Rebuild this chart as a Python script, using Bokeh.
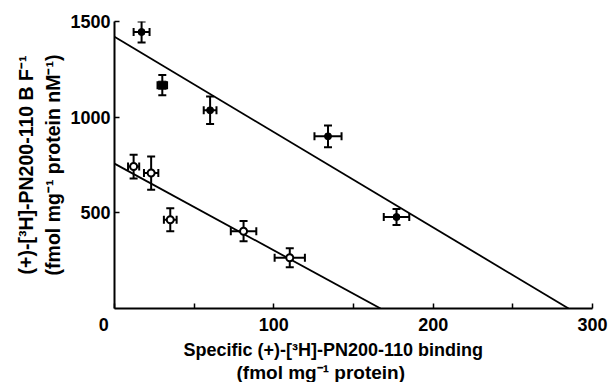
import math
from bokeh.plotting import figure
from bokeh.models import (ColumnDataSource, Range1d, FixedTicker, Whisker, TeeHead, Title)
from bokeh.embed import file_html
from bokeh.resources import INLINE

# ---- data ----
filled_x = [17, 30, 60, 134, 177]
filled_y = [1445, 1167, 1036, 900, 478]
filled_xerr = [5, 3, 4, 8.5, 8]
filled_yerr = [55, 53, 72, 57, 42]

open_x = [12, 23, 35, 81, 110]
open_y = [742, 708, 464, 404, 265]
open_xerr = [3.5, 4.5, 4, 8, 9.5]
open_yerr = [62, 87, 60, 53, 50]

fit_y_intercepts = [1420, 757]   # upper (filled), lower (open)
fit_x_intercepts = [285, 167]

x_ticks = [0, 50, 100, 150, 200, 250, 300]
x_tick_labels = {0: "0\u2003\u2009", 50: "", 100: "100", 150: "", 200: "200", 250: "", 300: "300"}
y_ticks = [500, 1000, 1500]

xl1 = "Specific (+)-[\u00b3H]-PN200-110 binding"
xl2 = "(fmol mg\u207b\u00b9 protein)"
yl1 = "(+)-[\u00b3H]-PN200-110 B F\u207b\u00b9"
yl2 = "(fmol mg\u207b\u00b9 protein nM\u207b\u00b9)"

FONT = "Liberation Sans"

p = figure(width=610, height=382, output_backend="svg", toolbar_location=None,
           x_range=Range1d(0, 300), y_range=Range1d(0, 1500),
           min_border_left=114, min_border_right=18, min_border_top=21, min_border_bottom=68)
p.outline_line_color = None
p.xgrid.visible = False
p.ygrid.visible = False

for ax in (p.xaxis[0], p.yaxis[0]):
    ax.axis_line_width = 2
    ax.axis_line_color = "black"
    ax.major_tick_in = 5
    ax.major_tick_out = 0
    ax.major_tick_line_width = 1.5
    ax.minor_tick_line_color = None
    ax.major_label_text_font = FONT
    ax.major_label_text_font_style = "bold"
    ax.major_label_text_font_size = "18px"
    ax.major_label_text_color = "black"

p.xaxis.ticker = FixedTicker(ticks=x_ticks)
p.xaxis.major_label_overrides = x_tick_labels
p.xaxis.major_label_standoff = 6
p.yaxis.ticker = FixedTicker(ticks=y_ticks)
p.yaxis.major_label_standoff = 4

# regression lines
for yi, xi in zip(fit_y_intercepts, fit_x_intercepts):
    p.line([0, xi], [yi, 0], line_color="black", line_width=1.8)

def add_err(xs, ys, xe, ye):
    src = ColumnDataSource(dict(
        x=xs, y=ys,
        xl=[a - b for a, b in zip(xs, xe)], xu=[a + b for a, b in zip(xs, xe)],
        yl=[a - b for a, b in zip(ys, ye)], yu=[a + b for a, b in zip(ys, ye)]))
    for base, lo, up, dim in (("x", "yl", "yu", "height"), ("y", "xl", "xu", "width")):
        w = Whisker(source=src, base=base, lower=lo, upper=up, dimension=dim,
                    line_width=2, line_color="black",
                    lower_head=TeeHead(size=8, line_width=2),
                    upper_head=TeeHead(size=8, line_width=2))
        w.level = "glyph"
        p.add_layout(w)

add_err(filled_x, filled_y, filled_xerr, filled_yerr)
add_err(open_x, open_y, open_xerr, open_yerr)

# markers
circ_idx = [0, 2, 3, 4]
p.scatter([filled_x[i] for i in circ_idx], [filled_y[i] for i in circ_idx], marker="circle",
          size=7, fill_color="black", line_color="black", level="overlay")
p.scatter([filled_x[1]], [filled_y[1]], marker="square", size=8,
          fill_color="black", line_color="black", level="overlay")
p.scatter(open_x, open_y, marker="circle", size=7, fill_color="white",
          line_color="black", line_width=2, level="overlay")

# axis titles
def mk_title(text, align, offset, standoff, size):
    return Title(text=text, align=align, offset=offset, standoff=standoff,
                 text_font=FONT, text_font_style="bold", text_font_size=size,
                 text_color="black")

p.add_layout(mk_title(xl1, "left", 69, 0, "18px"), "below")
p.add_layout(mk_title(xl2, "left", 122, 0, "19px"), "below")
p.add_layout(mk_title(yl2, "center", 0, 7, "19.5px"), "left")
p.add_layout(mk_title(yl1, "center", 0, 0, "19.5px"), "left")

open("out.html", "w").write(file_html(p, INLINE))
